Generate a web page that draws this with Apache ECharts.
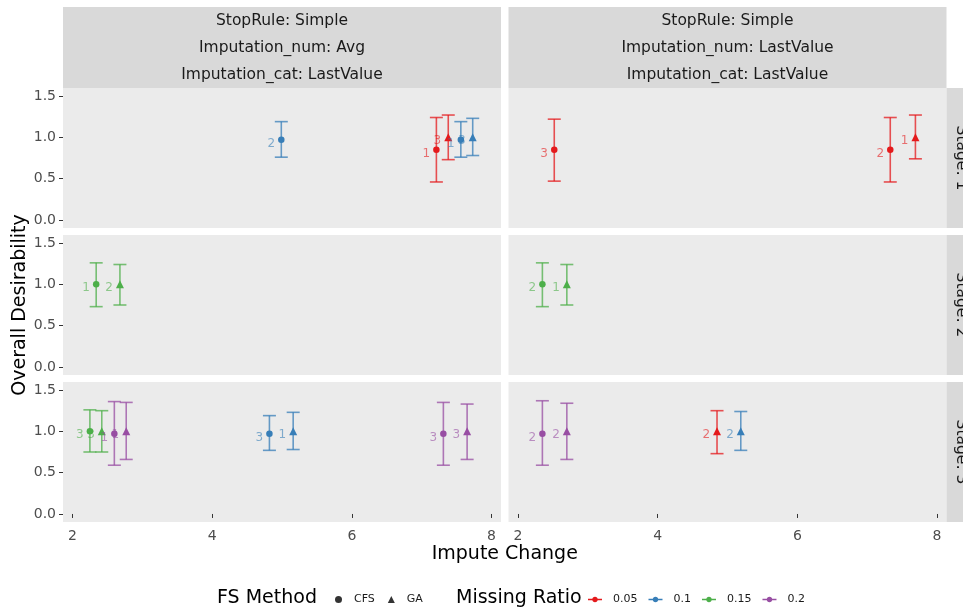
<!DOCTYPE html>
<html>
<head>
<meta charset="utf-8">
<script src="https://cdn.jsdelivr.net/npm/echarts@6/dist/echarts.min.js"></script>
<style>html,body{margin:0;padding:0;background:#fff;}#chart{width:963px;height:612px;}</style>
</head>
<body>
<div id="chart"></div>
<script>
// ---- facet definitions ----
const colImputationNum = ['Avg', 'LastValue'];
const stageNames = ['Stage: 1', 'Stage: 2', 'Stage: 3'];
const ratioNames = ['0.05', '0.1', '0.15', '0.2'];
const ratioColors = ['#E41A1C', '#377EB8', '#4DAF4A', '#984EA3'];
const methodNames = ['CFS', 'GA'];
const xTicks = [2, 4, 6, 8];
const yTicks = [0, 0.5, 1.0, 1.5];

// ---- point data (one entry per point) ----
const ptImpNum  = ['Avg','Avg','Avg','Avg','Avg','LastValue','LastValue','LastValue','Avg','Avg','LastValue','LastValue','Avg','Avg','Avg','Avg','Avg','Avg','Avg','Avg','LastValue','LastValue','LastValue','LastValue'];
const ptStage   = [1,1,1,1,1,1,1,1,2,2,2,2,3,3,3,3,3,3,3,3,3,3,3,3];
const ptMethod  = ['CFS','CFS','GA','CFS','GA','CFS','CFS','GA','CFS','GA','CFS','GA','CFS','GA','CFS','GA','CFS','GA','CFS','GA','CFS','GA','GA','GA'];
const ptRatio   = ['0.1','0.05','0.05','0.1','0.1','0.05','0.05','0.05','0.15','0.15','0.15','0.15','0.15','0.15','0.2','0.2','0.1','0.1','0.2','0.2','0.2','0.2','0.05','0.1'];
const ptImpute  = [4.99,7.21,7.38,7.56,7.73,2.52,7.33,7.69,2.34,2.68,2.35,2.70,2.25,2.42,2.60,2.77,4.82,5.16,7.31,7.65,2.35,2.70,4.85,5.19];
const ptDesir   = [0.97,0.85,1.00,0.97,1.00,0.85,0.85,1.00,1.00,1.00,1.00,1.00,1.00,1.00,0.97,1.00,0.97,1.00,0.97,1.00,0.97,1.00,1.00,1.00];
const ptLower   = [0.76,0.46,0.73,0.76,0.78,0.47,0.46,0.74,0.73,0.75,0.73,0.75,0.75,0.75,0.59,0.66,0.77,0.78,0.59,0.66,0.59,0.66,0.73,0.77];
const ptUpper   = [1.19,1.24,1.27,1.19,1.23,1.22,1.24,1.27,1.26,1.24,1.26,1.24,1.26,1.25,1.36,1.35,1.19,1.23,1.35,1.33,1.37,1.34,1.25,1.24];
const ptLabel   = ['2','1','3','1','3','3','2','1','1','2','2','1','3','3','1','1','3','1','3','3','2','2','2','2'];

// ---- layout ----
const FONT = 'DejaVu Sans';
const colLeft = [63, 508.5];
const colWidth = 438;
const rowTop = [88, 235, 382];
const rowHeight = 140;
const xMin = 1.865, xMax = 8.135;
const yMin = -0.097, yMax = 1.597;

function rgba(hex, a) {
  const n = parseInt(hex.slice(1), 16);
  return 'rgba(' + ((n >> 16) & 255) + ',' + ((n >> 8) & 255) + ',' + (n & 255) + ',' + a + ')';
}

const grids = [], xAxes = [], yAxes = [], series = [];
let idx = 0;
for (let r = 0; r < 3; r++) {
  for (let c = 0; c < 2; c++) {
    const bottom = r === 2, left = c === 0;
    grids.push({left: colLeft[c], top: rowTop[r], width: colWidth, height: rowHeight,
      show: true, backgroundColor: '#EBEBEB', borderWidth: 0});
    xAxes.push({gridIndex: idx, type: 'value', min: xMin, max: xMax,
      axisLine: {show: false}, splitLine: {show: false},
      axisTick: {show: bottom, length: 4, lineStyle: {color: '#333333', width: 1}, customValues: xTicks},
      axisLabel: {show: bottom, customValues: xTicks, color: '#4D4D4D', fontSize: 14, fontFamily: FONT, margin: 7}});
    yAxes.push({gridIndex: idx, type: 'value', min: yMin, max: yMax,
      axisLine: {show: false}, splitLine: {show: false},
      axisTick: {show: left, length: 4, lineStyle: {color: '#333333', width: 1}, customValues: yTicks},
      axisLabel: {show: left, customValues: yTicks, color: '#4D4D4D', fontSize: 14, fontFamily: FONT, margin: 7,
        formatter: v => Number(v).toFixed(1)}});

    ratioNames.forEach((rn, ri) => {
      const sel = [];
      for (let i = 0; i < ptImpute.length; i++) {
        if (ptImpNum[i] === colImputationNum[c] && ptStage[i] === r + 1 && ptRatio[i] === rn) sel.push(i);
      }
      if (!sel.length) return;
      const col = ratioColors[ri];
      series.push({
        type: 'custom', name: rn, xAxisIndex: idx, yAxisIndex: idx, z: 2,
        itemStyle: {color: col},
        encode: {x: 0, y: [1, 2]},
        data: sel.map(i => [ptImpute[i], ptLower[i], ptUpper[i]]),
        renderItem: function (params, api) {
          const x = api.value(0);
          const p1 = api.coord([x, api.value(1)]);
          const p2 = api.coord([x, api.value(2)]);
          const w = 6.5;
          const st = {stroke: rgba(col, 0.75), lineWidth: 1.6};
          return {type: 'group', children: [
            {type: 'line', shape: {x1: p1[0], y1: p1[1], x2: p2[0], y2: p2[1]}, style: st},
            {type: 'line', shape: {x1: p1[0] - w, y1: p1[1], x2: p1[0] + w, y2: p1[1]}, style: st},
            {type: 'line', shape: {x1: p2[0] - w, y1: p2[1], x2: p2[0] + w, y2: p2[1]}, style: st}
          ]};
        }
      });
      series.push({
        type: 'scatter', name: rn, xAxisIndex: idx, yAxisIndex: idx, z: 3,
        itemStyle: {color: col, opacity: 1},
        data: sel.map(i => ({
          value: [ptImpute[i], ptDesir[i]],
          symbol: ptMethod[i] === 'CFS' ? 'circle' : 'triangle',
          symbolSize: ptMethod[i] === 'CFS' ? 6.5 : 8,
          lab: ptLabel[i]
        })),
        label: {show: true, position: 'left', distance: 3, offset: [0, 4],
          formatter: p => p.data.lab, color: rgba(col, 0.6), fontSize: 12, fontFamily: FONT},
        emphasis: {disabled: true}
      });
    });
    idx++;
  }
}

// dummy series for FS Method legend
methodNames.forEach((m, mi) => {
  series.push({type: 'scatter', name: m, xAxisIndex: 0, yAxisIndex: 0, data: [],
    symbol: mi === 0 ? 'circle' : 'triangle', itemStyle: {color: '#000'}});
});

// ---- strips and titles ----
const stripTop = [
  ['StopRule: Simple', 'Imputation_num: Avg', 'Imputation_cat: LastValue'],
  ['StopRule: Simple', 'Imputation_num: LastValue', 'Imputation_cat: LastValue']
];
const graphics = [];
for (let c = 0; c < 2; c++) {
  graphics.push({type: 'rect', shape: {x: colLeft[c], y: 7, width: colWidth, height: 81}, style: {fill: '#D9D9D9'}, z: 0});
  stripTop[c].forEach((t, k) => {
    graphics.push({type: 'text', x: colLeft[c] + colWidth / 2, y: 21 + k * 27, z: 1,
      style: {text: t, font: '15.5px "' + FONT + '"', fill: '#1A1A1A', align: 'center', verticalAlign: 'middle',
        textAlign: 'center', textVerticalAlign: 'middle'}});
  });
}
for (let r = 0; r < 3; r++) {
  graphics.push({type: 'rect', shape: {x: colLeft[1] + colWidth, y: rowTop[r], width: 30, height: rowHeight}, style: {fill: '#D9D9D9'}, z: 0});
  graphics.push({type: 'text', x: 961, y: rowTop[r] + rowHeight / 2, rotation: -Math.PI / 2, z: 1,
    style: {text: stageNames[r], font: '15.5px "' + FONT + '"', fill: '#1A1A1A', align: 'center', verticalAlign: 'middle',
      textAlign: 'center', textVerticalAlign: 'middle'}});
}
graphics.push({type: 'text', x: (colLeft[0] + colLeft[1] + colWidth) / 2, y: 554,
  style: {text: 'Impute Change', font: '19px "' + FONT + '"', fill: '#000', align: 'center', verticalAlign: 'middle',
    textAlign: 'center', textVerticalAlign: 'middle'}});
graphics.push({type: 'text', x: 20, y: rowTop[0] + (rowTop[2] + rowHeight - rowTop[0]) / 2, rotation: Math.PI / 2,
  style: {text: 'Overall Desirability', font: '19px "' + FONT + '"', fill: '#000', align: 'center', verticalAlign: 'middle',
    textAlign: 'center', textVerticalAlign: 'middle'}});
graphics.push({type: 'text', x: 217, y: 598,
  style: {text: 'FS Method', font: '19px "' + FONT + '"', fill: '#000', align: 'left', verticalAlign: 'middle',
    textAlign: 'left', textVerticalAlign: 'middle'}});
graphics.push({type: 'text', x: 456, y: 598,
  style: {text: 'Missing Ratio', font: '19px "' + FONT + '"', fill: '#000', align: 'left', verticalAlign: 'middle',
    textAlign: 'left', textVerticalAlign: 'middle'}});

// point-range legend icon: line with a dot (circle approximated by a polygon)
function pointRangePath() {
  let d = 'path://M0,4.3 L14,4.3 L14,5.7 L0,5.7 Z ';
  const n = 16;
  for (let k = 0; k < n; k++) {
    const a = (k / n) * Math.PI * 2;
    const px = (7 + 2.8 * Math.cos(a)).toFixed(2), py = (5 + 2.8 * Math.sin(a)).toFixed(2);
    d += (k === 0 ? 'M' : 'L') + px + ',' + py + ' ';
  }
  return d + 'Z';
}
const pointRangeIcon = pointRangePath();

const option = {
  animation: false,
  backgroundColor: '#FFFFFF',
  grid: grids, xAxis: xAxes, yAxis: yAxes, series: series,
  graphic: graphics,
  legend: [
    {left: 330, top: 589, itemWidth: 7, itemHeight: 7, itemGap: 13, selectedMode: false,
      data: [{name: 'CFS', icon: 'circle'}, {name: 'GA', icon: 'triangle'}],
      textStyle: {fontSize: 11, color: '#1A1A1A', fontFamily: FONT, padding: [0, 0, 0, 7]}},
    {left: 583, top: 589, itemWidth: 14, itemHeight: 5.6, itemGap: 11, selectedMode: false,
      data: ratioNames.map(n => ({name: n, icon: pointRangeIcon})),
      textStyle: {fontSize: 11, color: '#1A1A1A', fontFamily: FONT, padding: [0, 0, 0, 6]}}
  ]
};
const chart = echarts.init(document.getElementById('chart'), null, {renderer: 'canvas'});
chart.setOption(option);
</script>
</body>
</html>
